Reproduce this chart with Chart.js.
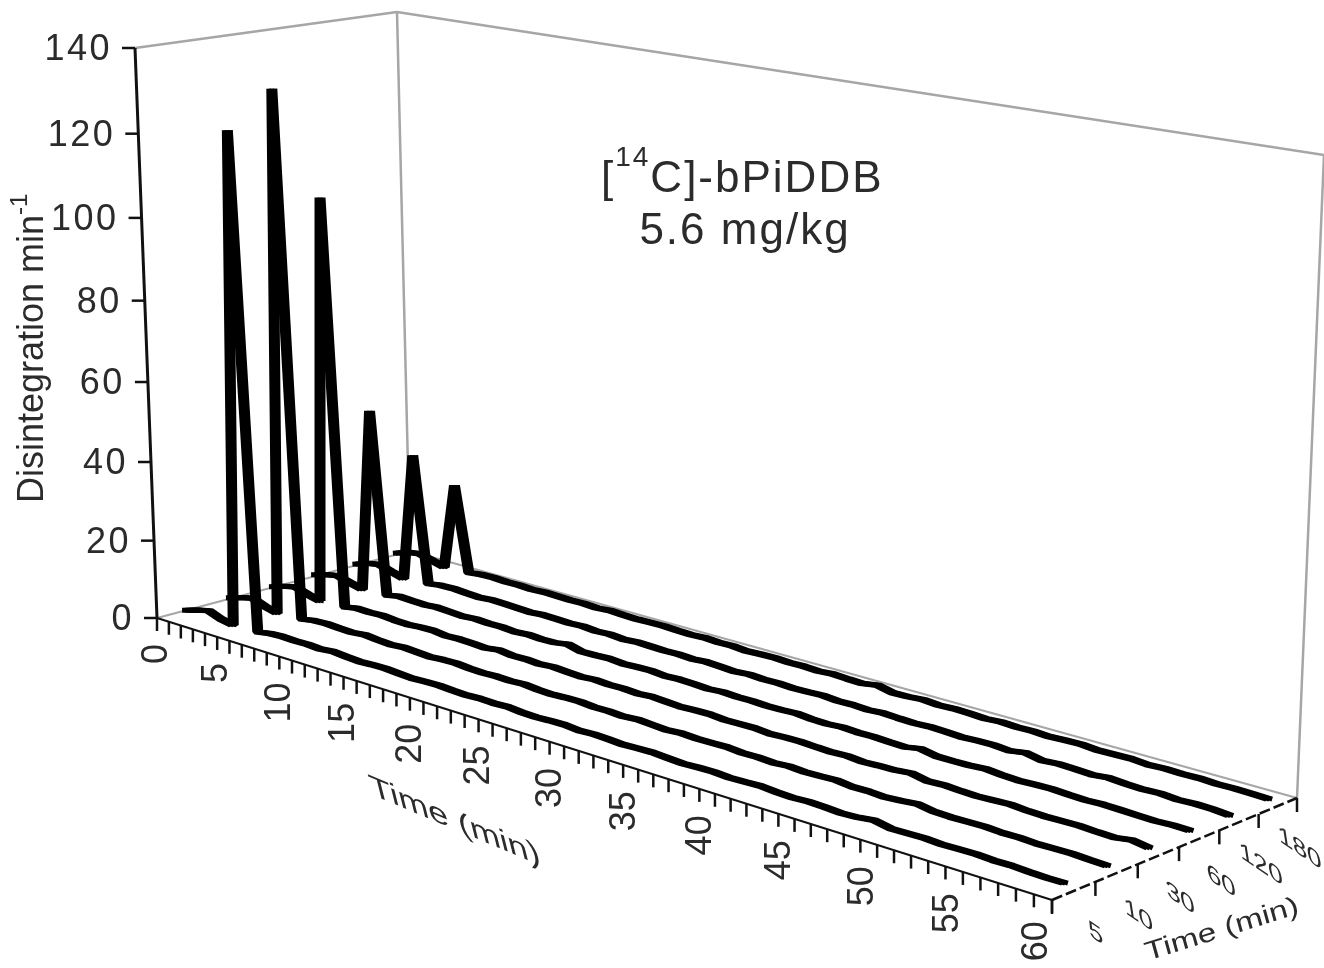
<!DOCTYPE html>
<html lang="en">
  <head>
    <meta charset="UTF-8" />
    <title>bPiDDB disintegration chart</title>
    <script src="https://cdn.jsdelivr.net/npm/chart.js"></script>
    <style>
      html, body { margin: 0; padding: 0; background: #fff; }
      canvas { display: block; }
    </style>
  </head>
  <body>
    <canvas id="chart" width="1324" height="968"></canvas>

    <script>
      // tick labels
      const timeTicks = [0, 5, 10, 15, 20, 25, 30, 35, 40, 45, 50, 55, 60];
      const depthLabels = ['5', '10', '30', '60', '120', '180'];
      const valueTicks = [0, 20, 40, 60, 80, 100, 120, 140];

      // one value per minute, 0 to 60
      const run5 = [1.0,2.0,2.8,1.6,1.0,123,1.2,1.8,2.0,1.9,2.0,1.8,2.2,1.9,1.7,1.9,2.0,1.8,1.6,1.8,1.9,1.7,1.6,1.8,1.7,1.9,1.6,1.5,1.7,1.8,1.5,1.7,1.6,1.4,1.6,1.7,1.5,1.3,1.5,1.6,1.4,1.5,1.7,1.4,1.3,1.5,1.4,1.2,1.4,1.9,1.2,1.3,1.4,1.2,1.3,1.4,1.2,1.3,1.1,1.0,1.1];
      const run10 = [1.2,2.2,3.0,1.8,1.0,131,1.4,2.0,2.2,2.0,1.9,2.3,2.0,1.8,2.1,1.9,1.7,2.0,2.1,1.8,1.7,1.9,1.8,2.0,1.7,1.6,1.8,1.9,1.6,1.7,1.5,1.8,1.6,1.4,1.7,1.5,1.6,1.7,1.4,1.5,1.3,1.6,1.4,1.5,1.7,1.3,1.4,1.2,1.5,1.9,1.3,1.2,1.3,1.4,1.2,1.3,1.1,1.2,1.3,1.1,1.0];
      const run30 = [1.1,2.2,2.9,1.9,1.1,103.5,1.5,2.1,2.0,2.2,1.9,1.8,2.1,2.2,1.8,2.0,1.9,1.7,2.2,1.8,1.9,1.7,2.0,1.8,1.6,1.9,1.7,1.8,1.6,1.9,1.7,1.5,1.7,1.8,1.5,1.6,1.7,1.4,1.6,1.7,1.5,1.4,1.6,1.3,1.5,1.6,2.0,1.3,1.5,1.3,1.2,1.4,1.6,1.3,1.2,1.3,1.4,1.2,1.1,1.7,1.1];
      const run60 = [1.3,2.3,2.9,2.0,1.2,48.5,1.5,2.2,2.0,1.9,2.2,2.0,1.8,2.1,1.9,2.0,1.7,2.0,1.8,1.9,2.5,1.6,1.7,1.9,1.6,1.8,1.9,1.6,1.8,1.7,1.5,1.8,1.6,1.7,1.5,1.6,1.8,1.5,1.4,1.7,1.5,1.6,1.4,1.3,2.0,1.3,1.3,1.4,1.7,1.4,1.2,1.4,1.5,1.3,1.2,1.4,1.3,1.2,1.1,1.3,1.2];
      const run120 = [1.2,2.4,3.0,2.0,1.1,34.5,1.6,2.1,2.2,2.0,1.8,2.1,2.0,1.9,1.7,2.0,1.9,1.8,2.0,1.7,1.9,1.6,1.9,1.8,1.7,1.8,1.6,1.9,1.7,1.5,1.8,1.6,1.7,1.5,1.6,1.8,1.5,1.6,1.4,1.7,1.5,1.4,1.6,1.5,1.3,1.5,1.6,1.3,1.9,1.2,1.5,1.4,1.2,1.6,1.3,1.2,1.4,1.1,1.3,1.2,0.9];
      const run180 = [1.3,2.5,3.0,2.1,1.2,24,1.6,2.0,2.1,1.9,2.0,1.8,2.0,1.9,1.8,1.9,1.7,2.0,1.8,1.7,1.8,1.9,1.7,1.6,1.8,1.6,1.7,1.4,1.6,1.7,1.5,1.6,1.4,1.7,1.5,1.4,2.0,1.2,1.3,1.6,1.3,1.5,1.4,1.2,1.5,1.3,1.4,1.2,1.4,1.5,1.2,1.3,1.4,1.1,1.3,1.2,1.3,1.1,1.2,1.1,1.0];
      const runs = [run5, run10, run30, run60, run120, run180];

      const MINUTE_BINS = 61;
      const VALUE_MAX = 140;

      const INK = '#2b2b2b';
      const GREY = '#a6a6a6';

      // corners of the box on the page, (time, depth) in 0..1
      const floorQuad = [[157, 618], [1052, 900], [1297, 798], [410, 551]];
      const topQuad = [[135, 48], [1070, 215], [1324, 155], [397, 12]];

      // square -> quad projective map
      function squareToQuad(q) {
        const [[x0, y0], [x1, y1], [x2, y2], [x3, y3]] = q;
        const dx1 = x1 - x2, dx2 = x3 - x2, dx3 = x0 - x1 + x2 - x3;
        const dy1 = y1 - y2, dy2 = y3 - y2, dy3 = y0 - y1 + y2 - y3;
        const den = dx1 * dy2 - dx2 * dy1;
        const g = (dx3 * dy2 - dx2 * dy3) / den;
        const h = (dx1 * dy3 - dx3 * dy1) / den;
        return (u, v) => {
          const w = g * u + h * v + 1;
          return [
            ((x1 - x0 + g * x1) * u + (x3 - x0 + h * x3) * v + x0) / w,
            ((y1 - y0 + g * y1) * u + (y3 - y0 + h * y3) * v + y0) / w,
          ];
        };
      }
      const floorMap = squareToQuad(floorQuad);
      const topMap = squareToQuad(topQuad);

      // u time 0..1, v depth 0..1, value in the y axis units
      function project(u, v, value) {
        const t = value / VALUE_MAX;
        const w = (t * 0.942) / (1 - 0.058 * t);
        const a = floorMap(u, v);
        const b = topMap(u, v);
        return { x: a[0] + (b[0] - a[0]) * w, y: a[1] + (b[1] - a[1]) * w };
      }

      const datasets = runs.map((run, k) => ({
        label: depthLabels[k] + ' min',
        data: run.map((value, minute) =>
          project((minute + 0.5) / MINUTE_BINS, (k + 0.5) / depthLabels.length, value)
        ),
        borderColor: '#000',
        borderWidth: 5,
        pointRadius: 0,
        tension: 0,
        fill: false,
        borderJoinStyle: 'bevel',
        borderCapStyle: 'butt',
      }));

      function sheared(ctx, x, y, ax, ay, bx, by, draw) {
        ctx.save();
        ctx.transform(ax, ay, bx, by, x, y);
        draw();
        ctx.restore();
      }

      // the box, ticks and text of the 3D frame
      const boxPlugin = {
        id: 'box',
        beforeDatasetsDraw(chart) {
          const ctx = chart.ctx;
          const sx = chart.scales.x, sy = chart.scales.y;
          const px = (p) => [sx.getPixelForValue(p.x), sy.getPixelForValue(p.y)];
          const seg = (a, b, color, width) => {
            const pa = px(a), pb = px(b);
            ctx.strokeStyle = color;
            ctx.lineWidth = width;
            ctx.beginPath();
            ctx.moveTo(pa[0], pa[1]);
            ctx.lineTo(pb[0], pb[1]);
            ctx.stroke();
          };
          const P = project;

          // grey walls
          seg(P(0, 0, 0), P(0, 1, 0), GREY, 2);
          seg(P(0, 1, 0), P(1, 1, 0), GREY, 2);
          seg(P(0, 1, 0), P(0, 1, VALUE_MAX), GREY, 2.5);
          seg(P(1, 1, 0), P(1, 1, VALUE_MAX), GREY, 2.5);
          seg(P(0, 0, VALUE_MAX), P(0, 1, VALUE_MAX), GREY, 2.5);
          seg(P(0, 1, VALUE_MAX), P(1, 1, VALUE_MAX), GREY, 2.5);

          // value axis
          seg(P(0, 0, 0), P(0, 0, VALUE_MAX), '#111', 3);
          ctx.fillStyle = INK;
          ctx.font = '36px "Liberation Sans"';
          ctx.letterSpacing = '2.5px';
          ctx.textAlign = 'right';
          ctx.textBaseline = 'middle';
          valueTicks.forEach((tick) => {
            const p = px(P(0, 0, tick));
            ctx.strokeStyle = '#111';
            ctx.lineWidth = 2.5;
            ctx.beginPath();
            ctx.moveTo(p[0], p[1]);
            ctx.lineTo(p[0] - 13, p[1]);
            ctx.stroke();
            ctx.fillText(String(tick), p[0] - 23, p[1] + 2);
          });
          ctx.letterSpacing = '0px';

          // front edge and its minute ticks
          seg(P(0, 0, 0), P(1, 0, 0), '#111', 2);
          for (let m = 0; m <= MINUTE_BINS; m++) {
            const p = px(P(m / MINUTE_BINS, 0, 0));
            ctx.strokeStyle = '#111';
            ctx.lineWidth = 2.5;
            ctx.beginPath();
            ctx.moveTo(p[0], p[1]);
            ctx.lineTo(p[0], p[1] + 13);
            ctx.stroke();
          }
          ctx.font = '36px "Liberation Sans"';
          timeTicks.forEach((tick) => {
            const p = px(P((tick + 0.5) / MINUTE_BINS, 0, 0));
            ctx.save();
            ctx.translate(p[0] - 6, p[1] + 24);
            ctx.rotate(-Math.PI / 2);
            ctx.textAlign = 'right';
            ctx.textBaseline = 'middle';
            ctx.fillStyle = INK;
            ctx.fillText(String(tick), 0, 0);
            ctx.restore();
          });

          // depth edge, ticks and labels
          ctx.setLineDash([11, 4]);
          seg(P(1, 0, 0), P(1, 1, 0), '#111', 2.5);
          ctx.setLineDash([]);
          for (let k = 0; k <= depthLabels.length; k++) {
            const p = px(P(1, k / depthLabels.length, 0));
            ctx.strokeStyle = '#111';
            ctx.lineWidth = 2.5;
            ctx.beginPath();
            ctx.moveTo(p[0], p[1]);
            ctx.lineTo(p[0], p[1] + 14);
            ctx.stroke();
          }
          depthLabels.forEach((label, k) => {
            const p = px(P(1, (k + 0.5) / depthLabels.length, 0));
            sheared(ctx, p[0] + 22, p[1] + 43, 1.0, 0.68, 0.15, 0.95, () => {
              ctx.font = '26px "Liberation Sans"';
              ctx.textAlign = 'center';
              ctx.textBaseline = 'middle';
              ctx.fillStyle = INK;
              ctx.fillText(label, 0, 0);
            });
          });

          // axis titles
          ctx.fillStyle = INK;
          ctx.textAlign = 'center';
          ctx.textBaseline = 'middle';
          sheared(ctx, 455, 822, 1.12, 0.47, 0.24, 0.95, () => {
            ctx.font = '32px "Liberation Sans"';
            ctx.fillText('Time (min)', 0, 0);
          });
          sheared(ctx, 1222, 930, 1.15, -0.36, 0.25, 0.9, () => {
            ctx.font = '28px "Liberation Sans"';
            ctx.fillText('Time (min)', 0, 0);
          });

          ctx.save();
          ctx.translate(33, 503);
          ctx.rotate(-Math.PI / 2);
          ctx.textAlign = 'left';
          ctx.textBaseline = 'middle';
          ctx.font = '36px "Liberation Sans"';
          ctx.fillText('Disintegration min', 0, 0);
          const w = ctx.measureText('Disintegration min').width;
          ctx.font = '24px "Liberation Sans"';
          ctx.fillText('-1', w, -13);
          ctx.restore();

          // annotation
          ctx.letterSpacing = '2px';
          ctx.textBaseline = 'alphabetic';
          ctx.textAlign = 'left';
          let x = 601;
          const part = (text, size, dy) => {
            ctx.font = size + 'px "Liberation Sans"';
            ctx.fillText(text, x, 192 + dy);
            x += ctx.measureText(text).width;
          };
          part('[', 44, 0);
          part('14', 28, -26);
          part('C]-bPiDDB', 44, 0);
          ctx.font = '44px "Liberation Sans"';
          ctx.textAlign = 'center';
          ctx.fillText('5.6 mg/kg', 745, 244);
          ctx.letterSpacing = '0px';
        },
        // the pen of the original is wider than it is tall
        afterDatasetDraw(chart, args) {
          const ctx = chart.ctx;
          const meta = chart.getDatasetMeta(args.index);
          [-3, 3].forEach((dx) => {
            ctx.save();
            ctx.translate(dx, 0);
            meta.dataset.draw(ctx, chart.chartArea);
            ctx.restore();
          });
        },
      };

      new Chart(document.getElementById('chart'), {
        type: 'scatter',
        data: { datasets },
        plugins: [boxPlugin],
        options: {
          responsive: false,
          animation: false,
          showLine: true,
          layout: { padding: 0 },
          plugins: { legend: { display: false }, tooltip: { enabled: false } },
          scales: {
            x: { type: 'linear', display: false, min: 0, max: 1324 },
            y: { type: 'linear', display: false, min: 0, max: 968, reverse: true },
          },
        },
      });
    </script>
  </body>
</html>
